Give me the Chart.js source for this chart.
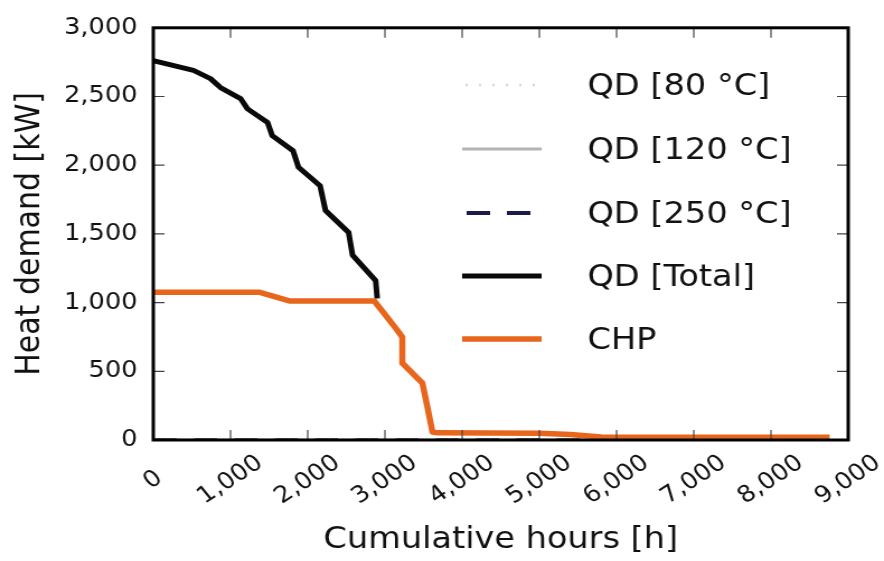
<!DOCTYPE html>
<html>
<head>
<meta charset="utf-8">
<script src="https://cdn.jsdelivr.net/npm/chart.js@4/dist/chart.umd.min.js"></script>
<style>
  html, body { margin: 0; padding: 0; background: #fff; }
</style>
</head>
<body>
<!-- canvas is drawn narrower and stretched out to the page width -->
<canvas id="chart" width="790" height="561" style="width:884px;height:561px;display:block"></canvas>
<script>
// load duration curves, hours sorted by demand
const totalHours = [0, 520, 740, 870, 1130, 1220, 1480, 1540, 1810, 1880, 2160, 2230, 2530, 2580, 2880, 2900];
const totalKw    = [2760, 2690, 2630, 2565, 2485, 2410, 2310, 2215, 2105, 1985, 1850, 1670, 1510, 1345, 1160, 1030];

const chpHours = [0, 1380, 1760, 2860, 3030, 3160, 3225, 3225, 3420, 3485, 3550, 3615, 3680, 5000, 5400, 5800, 8760];
const chpKw    = [1075, 1075, 1012, 1012, 893, 799, 748, 559, 450, 414, 240, 58, 52, 50, 40, 22, 20];

// the temperature levels sit on the zero line
const qdHours = [0, 8760];
const qd80Kw  = [0, 0];
const qd120Kw = [0, 0];
const qd250Kw = [0, 0];

const seriesLabels = ['QD [80 °C]', 'QD [120 °C]', 'QD [250 °C]', 'QD [Total]', 'CHP'];
const xTicks = [0, 1000, 2000, 3000, 4000, 5000, 6000, 7000, 8000, 9000];
const yTicks = [0, 500, 1000, 1500, 2000, 2500, 3000];

const FONT = 'DejaVu Sans';

function toPoints(xs, ys) {
  let pts = [];
  for (let i = 0; i < xs.length; i++) {
    pts.push({ x: xs[i], y: ys[i] });
  }
  return pts;
}

// box, inward ticks, rotated hour labels and the legend
const framePlugin = {
  id: 'frame',
  afterDraw(chart) {
    const ctx = chart.ctx;
    const a = chart.chartArea;
    const xs = chart.scales.x;
    const ys = chart.scales.y;
    ctx.save();

    ctx.strokeStyle = '#444';
    ctx.lineWidth = 1.2;
    ctx.beginPath();
    xTicks.forEach(v => {
      const px = xs.getPixelForValue(v);
      ctx.moveTo(px, a.bottom); ctx.lineTo(px, a.bottom - 10);
      ctx.moveTo(px, a.top); ctx.lineTo(px, a.top + 10);
    });
    yTicks.forEach(v => {
      const py = ys.getPixelForValue(v);
      ctx.moveTo(a.left, py); ctx.lineTo(a.left + 10, py);
      ctx.moveTo(a.right, py); ctx.lineTo(a.right - 10, py);
    });
    ctx.stroke();

    ctx.strokeStyle = '#000';
    ctx.lineWidth = 3;
    ctx.strokeRect(a.left, a.top, a.right - a.left, a.bottom - a.top);

    // x tick labels, centred under each tick
    ctx.fillStyle = '#111';
    ctx.font = '23px "' + FONT + '"';
    ctx.textAlign = 'center';
    ctx.textBaseline = 'middle';
    xTicks.forEach(v => {
      const px = xs.getPixelForValue(v);
      ctx.save();
      ctx.translate(px, 480);
      ctx.rotate(-36 * Math.PI / 180);
      ctx.fillText(v.toLocaleString('en-US'), 0, 0);
      ctx.restore();
    });

    // legend inside the plot
    const rowY = [85, 149, 213, 276, 339];
    ctx.font = '30px "' + FONT + '"';
    ctx.textAlign = 'left';
    chart.data.datasets.forEach((ds, i) => {
      const y = rowY[i];
      ctx.save();
      ctx.strokeStyle = ds.borderColor;
      ctx.lineWidth = ds.borderWidth;
      ctx.setLineDash(ds.borderDash || []);
      ctx.lineDashOffset = ds.legendDashOffset || 0;
      ctx.beginPath();
      ctx.moveTo(413, y);
      ctx.lineTo(484, y);
      ctx.stroke();
      ctx.restore();
      ctx.fillStyle = '#111';
      ctx.fillText(ds.label, 525, y + 2);
    });

    ctx.restore();
  }
};

new Chart(document.getElementById('chart'), {
  type: 'line',
  data: {
    datasets: [
      { label: seriesLabels[0], data: toPoints(qdHours, qd80Kw), borderColor: '#d9d9d9', borderWidth: 2.5, borderDash: [2, 10], legendDashOffset: -3, order: 1 },
      { label: seriesLabels[1], data: toPoints(qdHours, qd120Kw), borderColor: '#b3b3b3', borderWidth: 3, order: 1 },
      { label: seriesLabels[2], data: toPoints(qdHours, qd250Kw), borderColor: '#1c1c4a', borderWidth: 4, borderDash: [21, 15], legendDashOffset: -4, order: 1 },
      { label: seriesLabels[3], data: toPoints(totalHours, totalKw), borderColor: '#0a0a0a', borderWidth: 5, order: 1 },
      { label: seriesLabels[4], data: toPoints(chpHours, chpKw), borderColor: '#e8651c', borderWidth: 5.5, order: 0 }
    ]
  },
  options: {
    responsive: false,
    animation: false,
    devicePixelRatio: 1,
    locale: 'en-US',
    layout: { padding: { top: 27, right: 32, left: 0, bottom: 0 } },
    elements: {
      point: { radius: 0 },
      line: { tension: 0, borderJoinStyle: 'round', borderCapStyle: 'butt' }
    },
    plugins: {
      legend: { display: false },
      tooltip: { enabled: false }
    },
    scales: {
      x: {
        type: 'linear',
        min: 0,
        max: 9000,
        afterFit: scale => { scale.height = 121; },
        grid: { display: false, drawTicks: false },
        border: { display: false },
        ticks: { display: false, stepSize: 1000 },
        title: {
          display: true,
          text: 'Cumulative hours [h]',
          color: '#111',
          font: { family: FONT, size: 30 },
          padding: { top: 0, bottom: 3 }
        }
      },
      y: {
        min: 0,
        max: 3000,
        afterFit: scale => { scale.width = 137; },
        grid: { display: false, drawTicks: false },
        border: { display: false },
        ticks: {
          stepSize: 500,
          padding: 14,
          color: '#111',
          font: { family: FONT, size: 23 }
        },
        title: {
          display: true,
          text: 'Heat demand [kW]',
          color: '#111',
          font: { family: FONT, size: 30 },
          padding: { top: 9, bottom: 0 }
        }
      }
    }
  },
  plugins: [framePlugin]
});
</script>
</body>
</html>
